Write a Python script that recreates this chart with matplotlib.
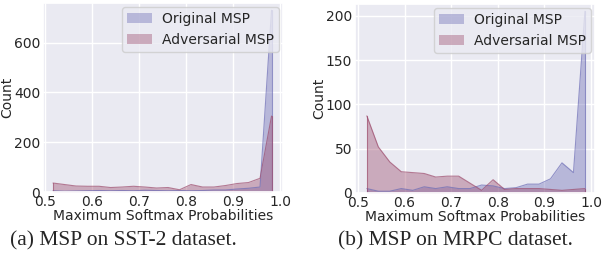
import numpy as np
import seaborn as sns
from matplotlib import pyplot as plt

# bin centres (20 bins) for each dataset
sst_bins = np.linspace(0.517, 0.982, 20)
mrpc_bins = np.linspace(0.519, 0.987, 20)

# SST-2 counts
sst_orig = [5, 3, 4, 5, 6, 5, 6, 5, 7, 6, 5, 6, 5, 6, 8, 8, 12, 15, 20, 730]
sst_adv = [36, 30, 24, 23, 23, 18, 20, 23, 20, 16, 18, 9, 30, 20, 20, 26, 34, 38, 55, 305]

# MRPC counts
mrpc_orig = [5, 2, 2, 5, 3, 7, 5, 7, 5, 5, 9, 8, 5, 6, 10, 10, 16, 34, 23, 205]
mrpc_adv = [87, 52, 35, 24, 23, 22, 18, 19, 19, 11, 3, 15, 4, 5, 5, 5, 4, 3, 4, 5]

captions = ['(a) MSP on SST-2 dataset.', '(b) MSP on MRPC dataset.']
c_orig = '#6b6bb5'
c_adv = '#9c4a6b'

sns.set_theme(style='darkgrid')
plt.rcParams['font.family'] = ['DejaVu Sans']

fig = plt.figure(figsize=(6.04, 2.66), dpi=100)
ax1 = fig.add_axes([43/604, 1-192/266, 240/604, 189/266])
ax2 = fig.add_axes([355/604, 1-193/266, 240/604, 189/266])

datasets = [(ax1, sst_bins, sst_orig, sst_adv, (0.4957, 1.0064), [0, 200, 400, 600]),
            (ax2, mrpc_bins, mrpc_orig, mrpc_adv, (0.4936, 1.0086), [0, 50, 100, 150, 200])]

for ax, x, orig, adv, xl, yt in datasets:
    ax.fill_between(x, orig, color=c_orig, alpha=0.4, linewidth=0, label='Original MSP')
    ax.plot(x, orig, color=c_orig, alpha=0.7, lw=0.8)
    ax.plot([x[0], x[0]], [0, orig[0]], color=c_orig, alpha=0.7, lw=0.8)
    ax.plot([x[-1], x[-1]], [0, orig[-1]], color=c_orig, alpha=0.7, lw=0.8)
    ax.fill_between(x, adv, color=c_adv, alpha=0.4, linewidth=0, label='Adversarial MSP')
    ax.plot(x, adv, color=c_adv, alpha=0.7, lw=0.8)
    ax.plot([x[0], x[0]], [0, adv[0]], color=c_adv, alpha=0.7, lw=0.8)
    ax.plot([x[-1], x[-1]], [0, adv[-1]], color=c_adv, alpha=0.7, lw=0.8)
    ax.set_xlim(*xl)
    ax.set_ylim(0, max(max(orig), max(adv)) * 1.04)
    ax.set_xticks([0.5, 0.6, 0.7, 0.8, 0.9, 1.0])
    ax.set_yticks(yt)
    ax.tick_params(labelsize=10, pad=2, length=0)
    ax.set_xlabel('Maximum Softmax Probabilities', fontsize=10, labelpad=0)
    ax.set_ylabel('Count', fontsize=10, labelpad=0)
    ax.legend(loc='upper right', fontsize=10, borderaxespad=0.3, handlelength=1.8,
              handletextpad=0.7, borderpad=0.35, labelspacing=0.5)

fig.text(123/604, 1-241/266, captions[0], ha='center', va='center',
         family='Liberation Serif', fontsize=15.5)
fig.text(455/604, 1-241/266, captions[1], ha='center', va='center',
         family='Liberation Serif', fontsize=15.5)

plt.savefig('out.png', dpi=100)
